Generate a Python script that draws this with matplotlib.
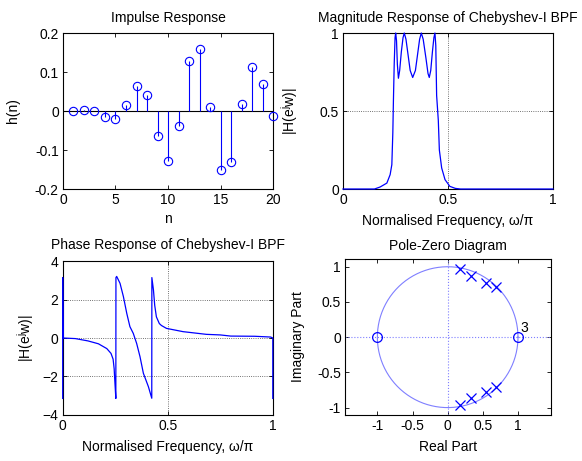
import matplotlib
matplotlib.use("Agg")
import matplotlib.pyplot as plt
import numpy as np

plt.rcParams['font.family'] = ['Liberation Sans', 'DejaVu Sans']
plt.rcParams['mathtext.fontset'] = 'custom'
plt.rcParams['mathtext.rm'] = 'Liberation Sans'
plt.rcParams['mathtext.it'] = 'Liberation Sans'

# ---- data ----
n = list(range(1, 21))
h = [0.001, 0.003, 0.000, -0.015, -0.020, 0.015, 0.065, 0.041, -0.064, -0.129,
     -0.038, 0.127, 0.159, 0.0095, -0.150, -0.132, 0.018, 0.112, 0.069, -0.014]

mag_f = [0.0, 0.15, 0.177, 0.209, 0.2246, 0.2327, 0.2374, 0.2403, 0.244, 0.248, 0.251,
         0.255, 0.259, 0.264, 0.27, 0.278, 0.286, 0.292, 0.3, 0.31, 0.32, 0.332,
         0.345, 0.355, 0.365, 0.373, 0.382, 0.395, 0.405, 0.411, 0.418, 0.426,
         0.433, 0.438, 0.442, 0.446, 0.451, 0.454, 0.459, 0.47, 0.486, 0.509,
         0.535, 0.56, 1.0]
mag = [0.0, 0.0, 0.013, 0.038, 0.092, 0.156, 0.36, 0.57, 0.8, 0.97, 1.0,
       0.95, 0.8, 0.71, 0.76, 0.88, 0.97, 1.0, 0.96, 0.86, 0.76, 0.715,
       0.76, 0.86, 0.96, 1.0, 0.96, 0.84, 0.74, 0.715, 0.76, 0.88,
       0.97, 1.0, 0.92, 0.6, 0.5, 0.44, 0.25, 0.135, 0.06, 0.017,
       0.004, 0.0, 0.0]

ph_f = [0.0, 0.0, 0.002, 0.06, 0.12, 0.17, 0.21, 0.23, 0.24, 0.245, 0.248, 0.253,
        0.2535, 0.257, 0.273, 0.289, 0.305, 0.32, 0.336, 0.352, 0.368, 0.384, 0.408, 0.424,
        0.4245, 0.432, 0.438, 0.446, 0.46, 0.47, 0.494, 0.573, 0.684, 0.75, 0.8,
        0.914, 0.99, 1.0, 1.0]
ph = [-3.14, 3.14, 0.0, -0.03, -0.15, -0.3, -0.55, -0.8, -1.1, -1.6, -2.2, -3.14,
      3.14, 3.2, 2.84, 2.15, 1.28, 0.59, 0.24, -0.28, -0.97, -1.83, -2.53, -3.13,
      3.14, 2.5, 1.7, 1.1, 0.75, 0.65, 0.5, 0.33, 0.19, 0.16, 0.1,
      0.09, 0.05, 0.0, -3.14]

pole_re = [0.18, 0.338, 0.55, 0.69, 0.18, 0.338, 0.55, 0.69]
pole_im = [0.965, 0.87, 0.775, 0.71, -0.965, -0.87, -0.775, -0.71]
zero_re = [-1.0, 1.0]
zero_im = [0.0, 0.0]
zero_mult_label = "3"

BLUE = '#0000ff'
TICK_FS = 10
LAB_FS = 10
TITLE_FS = 10

fig = plt.figure(figsize=(5.82, 4.61), dpi=100)


def style(ax):
    ax.tick_params(direction='in', length=3, width=0.6, top=True, right=True,
                   labelsize=TICK_FS, pad=3)
    for s in ax.spines.values():
        s.set_linewidth(0.8)


def grid(ax):
    ax.grid(True, linestyle=':', color='#444444', linewidth=0.6)


# Impulse response
ax1 = fig.add_axes([0.1082, 0.590, 0.361, 0.3384])
ax1.axhline(0, color='black', linewidth=0.8, zorder=1)
ax1.vlines(n, 0, h, color=BLUE, linewidth=0.8, zorder=2)
ax1.plot(n, h, 'o', mfc='none', mec=BLUE, ms=6, mew=0.8, zorder=3, clip_on=False)
ax1.set_xlim(0, 20)
ax1.set_ylim(-0.2, 0.2)
ax1.set_xticks([0, 5, 10, 15, 20])
ax1.set_yticks([-0.2, -0.1, 0, 0.1, 0.2])
ax1.set_yticklabels(['-0.2', '-0.1', '0', '0.1', '0.2'])
ax1.set_title('Impulse Response', fontsize=TITLE_FS, pad=8)
ax1.set_xlabel('n', fontsize=LAB_FS)
ax1.set_ylabel('h(n)', fontsize=LAB_FS)
ax1.xaxis.set_label_coords(0.5, -0.15)
ax1.yaxis.set_label_coords(-0.205, 0.5)
style(ax1)

# Magnitude response
ax2 = fig.add_axes([0.5893, 0.590, 0.3608, 0.3384])
ax2.plot(mag_f, mag, color=BLUE, linewidth=0.9, zorder=3, clip_on=False)
ax2.set_xlim(0, 1)
ax2.set_ylim(0, 1)
ax2.set_xticks([0, 0.5, 1])
ax2.set_xticklabels(['0', '0.5', '1'])
ax2.set_yticks([0, 0.5, 1])
ax2.set_yticklabels(['0', '0.5', '1'])
grid(ax2)
ax2.set_title('Magnitude Response of Chebyshev-I BPF', fontsize=TITLE_FS, pad=8)
ax2.set_xlabel('Normalised Frequency, ω/π', fontsize=LAB_FS)
ax2.set_ylabel(r'|H(e$^{\mathrm{j}}$w)|', fontsize=LAB_FS)
ax2.xaxis.set_label_coords(0.5, -0.16)
ax2.yaxis.set_label_coords(-0.203, 0.5)
style(ax2)

# Phase response
ax3 = fig.add_axes([0.1077, 0.0998, 0.361, 0.334])
ax3.plot(ph_f, ph, color=BLUE, linewidth=0.9, zorder=3, clip_on=False)
ax3.set_xlim(0, 1)
ax3.set_ylim(-4, 4)
ax3.set_xticks([0, 0.5, 1])
ax3.set_xticklabels(['0', '0.5', '1'])
ax3.set_yticks([-4, -2, 0, 2, 4])
grid(ax3)
ax3.set_title('Phase Response of Chebyshev-I BPF', fontsize=TITLE_FS, pad=9)
ax3.set_xlabel('Normalised Frequency, ω/π', fontsize=LAB_FS)
ax3.set_ylabel(r'|H(e$^{\mathrm{j}}$w)|', fontsize=LAB_FS)
ax3.xaxis.set_label_coords(0.5, -0.165)
ax3.yaxis.set_label_coords(-0.125, 0.5)
style(ax3)

# Pole-zero diagram
ax4 = fig.add_axes([0.5928, 0.0998, 0.354, 0.3384])
t = np.linspace(0, 2 * np.pi, 200)
ax4.plot(np.cos(t), np.sin(t), color='#7f7fff', linewidth=0.8)
ax4.axhline(0, color='#7f7fff', linewidth=0.8, linestyle=':')
ax4.axvline(0, color='#7f7fff', linewidth=0.8, linestyle=':')
ax4.plot(zero_re, zero_im, 'o', mfc='none', mec=BLUE, ms=7, mew=0.9)
ax4.plot(pole_re, pole_im, 'x', color=BLUE, ms=6.5, mew=0.9)
ax4.text(zero_re[1] + 0.04, zero_im[1] + 0.03, zero_mult_label, fontsize=TICK_FS,
         ha='left', va='bottom')
ax4.set_xlim(-1.46, 1.47)
ax4.set_ylim(-1.105, 1.11)
ax4.set_xticks([-1, -0.5, 0, 0.5, 1])
ax4.set_xticklabels(['-1', '-0.5', '0', '0.5', '1'])
ax4.set_yticks([-1, -0.5, 0, 0.5, 1])
ax4.set_yticklabels(['-1', '-0.5', '0', '0.5', '1'])
ax4.set_title('Pole-Zero Diagram', fontsize=TITLE_FS, pad=6.5)
ax4.set_xlabel('Real Part', fontsize=LAB_FS)
ax4.set_ylabel('Imaginary Part', fontsize=LAB_FS)
ax4.xaxis.set_label_coords(0.5, -0.16)
ax4.yaxis.set_label_coords(-0.194, 0.5)
style(ax4)

fig.savefig('out.png', dpi=100)
